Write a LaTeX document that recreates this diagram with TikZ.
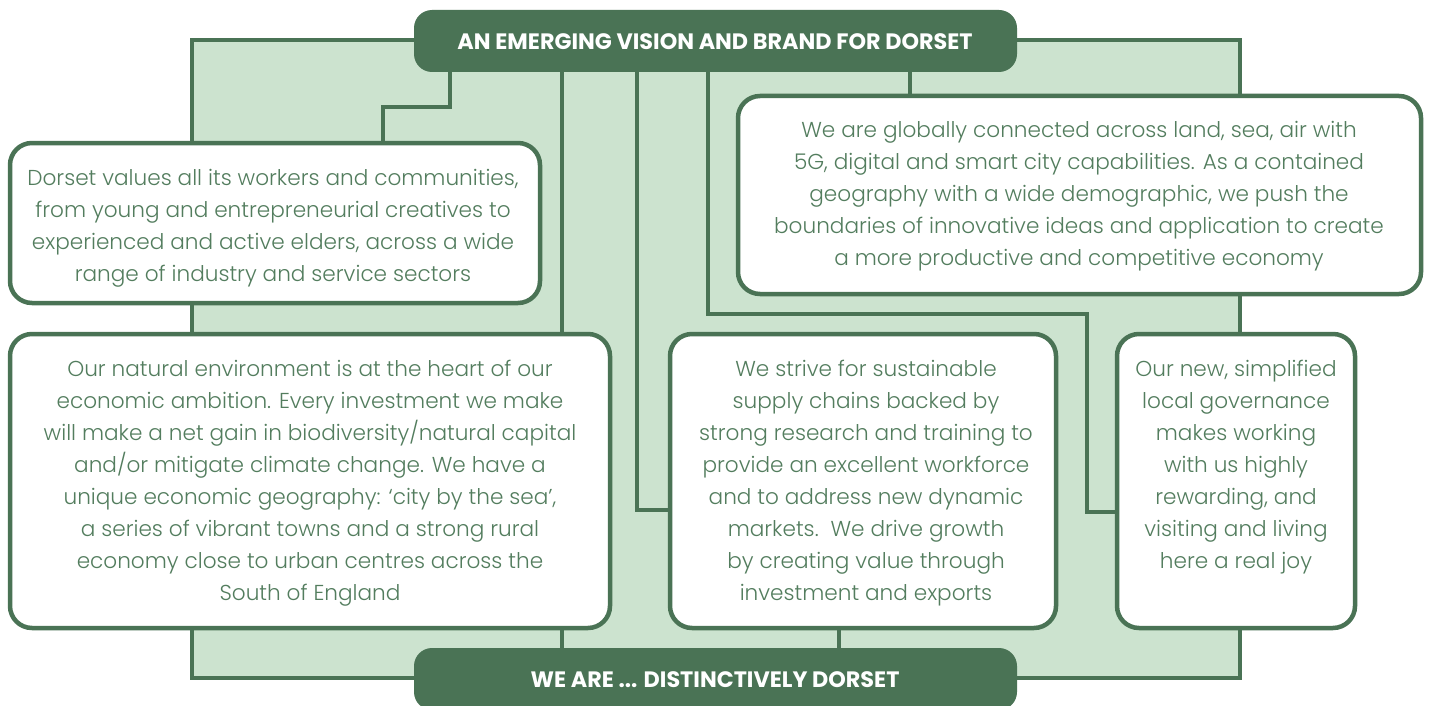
\documentclass[tikz,border=0pt]{standalone}
\usepackage{fontspec}
\IfFontExistsTF{Poppins Light}{\newfontfamily\bodyfont{Poppins Light}}{\newfontfamily\bodyfont{Poppins}}
\newfontfamily\headfont{Poppins}
\definecolor{dgreen}{HTML}{4A7355}
\definecolor{lgreen}{HTML}{CCE3CF}
\definecolor{tgreen}{HTML}{537D5E}
\tikzset{
  banner/.style={fill=dgreen, rounded corners=18pt, inner sep=0pt},
  bannertext/.style={text=white, inner sep=0pt,
    font=\headfont\bfseries\fontsize{22.3}{26}\selectfont},
  box/.style={draw=dgreen, line width=4.5pt, fill=white, rounded corners=22pt, inner sep=0pt},
  boxtext/.style={align=center, text=tgreen, inner sep=0pt,
    font=\bodyfont\fontsize{21.6}{32}\selectfont},
  conn/.style={draw=dgreen, line width=4pt},
  region/.style={fill=lgreen, draw=dgreen, line width=4pt}
}
\begin{document}
\begin{tikzpicture}[x=1pt,y=-1pt]
\useasboundingbox (0,0) rectangle (1431,706);
\clip (0,0) rectangle (1431,706);
\fill[white] (0,0) rectangle (1431,706);
% light green region
\path[region] (192,40) rectangle (1240,678);
% coordinates for connector bends
\coordinate (a1) at (450,107);
\coordinate (a2) at (383,107);
\coordinate (d1) at (637,510);
\coordinate (e1) at (708,314);
\coordinate (e2) at (1087,314);
\coordinate (e3) at (1087,512);
% banners
\node[banner, minimum width=603pt, minimum height=62pt] (ban1) at (715.5,41) {};
\node[banner, minimum width=603pt, minimum height=62pt] (ban2) at (715.5,679) {};
% boxes
\node[box, minimum width=530pt, minimum height=160pt] (boxA) at (275,223) {};
\node[box, minimum width=683pt, minimum height=198pt] (boxB) at (1079.5,195) {};
\node[box, minimum width=600pt, minimum height=294pt] (boxC) at (310,481) {};
\node[box, minimum width=386pt, minimum height=294pt] (boxD) at (863,481) {};
\node[box, minimum width=238pt, minimum height=294pt] (boxE) at (1236,481) {};
% connectors
\draw[conn] (ban1.south -| a1) -- (a1) -- (a2) -- (boxA.north -| a2);
\draw[conn] (ban1.south -| 562,0) -- (boxC.north -| 562,0);
\draw[conn] (ban1.south -| d1) -- (d1) -- (boxD.west |- d1);
\draw[conn] (ban1.south -| e1) -- (e1) -- (e2) -- (e3) -- (boxE.west |- e3);
\draw[conn] (ban1.south -| 910,0) -- (boxB.north -| 910,0);
\draw[conn] (boxC.south -| 562,0) -- (ban2.north -| 562,0);
\draw[conn] (boxD.south -| 839,0) -- (ban2.north -| 839,0);
% banner texts
\node[bannertext] (t1) at (715,42) {AN EMERGING VISION AND BRAND FOR DORSET};
\node[bannertext] (t2) at (715,680) {WE ARE ... DISTINCTIVELY DORSET};
% box texts
\node[boxtext] (tA) at (273,228) {Dorset values all its workers and communities,\\from young and entrepreneurial creatives to\\experienced and active elders, across a wide\\range of industry and service sectors};
\node[boxtext] (tB) at (1079,196) {We are globally connected across land, sea, air with\\5G, digital and smart city capabilities. As a contained\\geography with a wide demographic, we push the\\boundaries of innovative ideas and application to create\\a more productive and competitive economy};
\node[boxtext] (tC) at (310,483) {Our natural environment is at the heart of our\\economic ambition. Every investment we make\\will make a net gain in biodiversity/natural capital\\and/or mitigate climate change. We have a\\unique economic geography: ‘city by the sea’,\\a series of vibrant towns and a strong rural\\economy close to urban centres across the\\South of England};
\node[boxtext] (tD) at (866,483) {We strive for sustainable\\supply chains backed by\\strong research and training to\\provide an excellent workforce\\and to address new dynamic\\markets.\ \ We drive growth\\by creating value through\\investment and exports};
\node[boxtext] (tE) at (1236,467) {Our new, simplified\\local governance\\makes working\\with us highly\\rewarding, and\\visiting and living\\here a real joy};
\end{tikzpicture}
\end{document}
